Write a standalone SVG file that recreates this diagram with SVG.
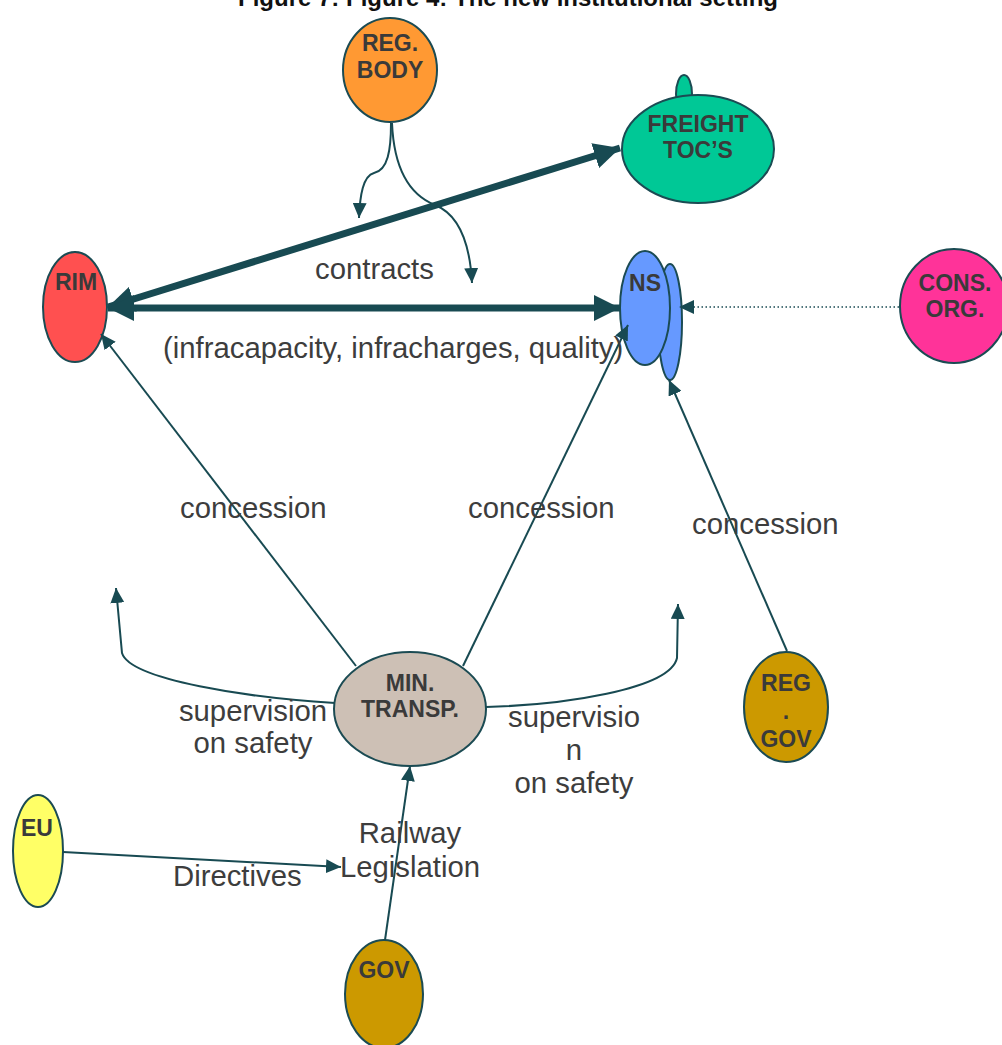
<svg xmlns="http://www.w3.org/2000/svg" width="1002" height="1045" viewBox="0 0 1002 1045">
<style>
.node ellipse{stroke:#1b4b53;stroke-width:2}
.nl{font-family:"Liberation Sans",Arial,sans-serif;font-weight:bold;font-size:23px;fill:#3a3a3a;text-anchor:middle}
.lbl{font-family:"Liberation Sans",Arial,sans-serif;font-size:29.3px;fill:#3d3d3d}
.c{fill:none;stroke:#184a52;stroke-width:2}
.thick{fill:none;stroke:#184a52;stroke-width:7}
.title{font-family:"Liberation Sans",Arial,sans-serif;font-weight:bold;font-size:24px;fill:#111;text-anchor:middle}
</style>
<defs>
<marker id="ah" markerUnits="userSpaceOnUse" markerWidth="15" markerHeight="14" refX="15" refY="7" orient="auto"><path d="M0,0 L15,7 L0,14 z" fill="#184a52"/></marker>
<marker id="ahT" markerUnits="userSpaceOnUse" markerWidth="26" markerHeight="26" refX="26" refY="13" orient="auto-start-reverse"><path d="M0,0 L26,13 L0,26 z" fill="#184a52"/></marker>
</defs>
<rect width="1002" height="1045" fill="#fff"/>
<text class="title" x="508" y="6">Figure 7: Figure 4: The new institutional setting</text>

<g id="reg-body" class="node"><ellipse cx="390" cy="70" rx="47" ry="52" fill="#ff9933"/><text class="nl" x="390" y="51">REG.</text><text class="nl" x="390" y="78">BODY</text></g>
<g id="freight" class="node"><ellipse cx="684" cy="94" rx="8" ry="19" fill="#00c896"/><ellipse cx="698" cy="149" rx="76" ry="54" fill="#00c896"/><text class="nl" x="698" y="132">FREIGHT</text><text class="nl" x="698" y="158">TOC’S</text></g>
<g id="rim" class="node"><ellipse cx="75" cy="307" rx="32" ry="55" fill="#ff5050"/><text class="nl" x="76" y="290">RIM</text></g>
<g id="ns" class="node"><ellipse cx="670" cy="322" rx="12" ry="58" fill="#6699ff"/><ellipse cx="645" cy="308" rx="25" ry="57" fill="#6699ff"/><text class="nl" x="645" y="291">NS</text></g>
<g id="cons-org" class="node"><ellipse cx="954" cy="306" rx="54" ry="57" fill="#ff3399"/><text class="nl" x="955" y="291">CONS.</text><text class="nl" x="955" y="317">ORG.</text></g>
<g id="min-transp" class="node"><ellipse cx="410" cy="709" rx="76" ry="57" fill="#cdc0b5"/><text class="nl" x="410" y="691">MIN.</text><text class="nl" x="410" y="717">TRANSP.</text></g>
<g id="reg-gov" class="node"><ellipse cx="786" cy="707" rx="42" ry="55" fill="#cc9900"/><text class="nl" x="786" y="691">REG</text><text class="nl" x="786" y="719">.</text><text class="nl" x="786" y="747">GOV</text></g>
<g id="eu" class="node"><ellipse cx="38" cy="851" rx="25" ry="56" fill="#ffff66"/><text class="nl" x="37" y="836">EU</text></g>
<g id="gov" class="node"><ellipse cx="384" cy="994" rx="39" ry="54" fill="#cc9900"/><text class="nl" x="384" y="978">GOV</text></g>

<g id="connectors">
<path class="c" d="M391 123 C391 150 388 170 374 173 C363 176 360 195 359 218" marker-end="url(#ah)"/>
<path class="c" d="M392 123 C394 170 410 195 435 205 C460 215 470 245 472 283" marker-end="url(#ah)"/>
<line class="thick" x1="108" y1="307" x2="620" y2="148" marker-start="url(#ahT)" marker-end="url(#ahT)"/>
<line class="thick" x1="108" y1="308" x2="620" y2="308" marker-start="url(#ahT)" marker-end="url(#ahT)"/>
<line x1="899" y1="307" x2="679" y2="307" stroke="#184a52" stroke-width="1.5" stroke-dasharray="1.5 2.5" marker-end="url(#ah)"/>
<line class="c" x1="356" y1="666" x2="101" y2="334" marker-end="url(#ah)"/>
<line class="c" x1="463" y1="666" x2="628" y2="325" marker-end="url(#ah)"/>
<line class="c" x1="787" y1="651" x2="669" y2="380" marker-end="url(#ah)"/>
<path class="c" d="M335 703 C250 698 130 680 122 653 L116 588" marker-end="url(#ah)"/>
<path class="c" d="M486 707 C560 705 670 690 677 658 L678 604" marker-end="url(#ah)"/>
<line class="c" x1="385" y1="940" x2="410" y2="766" marker-end="url(#ah)"/>
<line class="c" x1="63" y1="852" x2="341" y2="867" marker-end="url(#ah)"/>
</g>

<g id="labels">
<text class="lbl" x="315" y="279">contracts</text>
<text class="lbl" x="163" y="358">(infracapacity, infracharges, quality)</text>
<text class="lbl" x="180" y="518">concession</text>
<text class="lbl" x="468" y="518">concession</text>
<text class="lbl" x="692" y="534">concession</text>
<text class="lbl" x="253" y="721" text-anchor="middle">supervision</text>
<text class="lbl" x="253" y="753" text-anchor="middle">on safety</text>
<text class="lbl" x="574" y="727" text-anchor="middle">supervisio</text>
<text class="lbl" x="574" y="760" text-anchor="middle">n</text>
<text class="lbl" x="574" y="793" text-anchor="middle">on safety</text>
<text class="lbl" x="410" y="843" text-anchor="middle">Railway</text>
<text class="lbl" x="410" y="877" text-anchor="middle">Legislation</text>
<text class="lbl" x="173" y="886">Directives</text>
</g>
</svg>
